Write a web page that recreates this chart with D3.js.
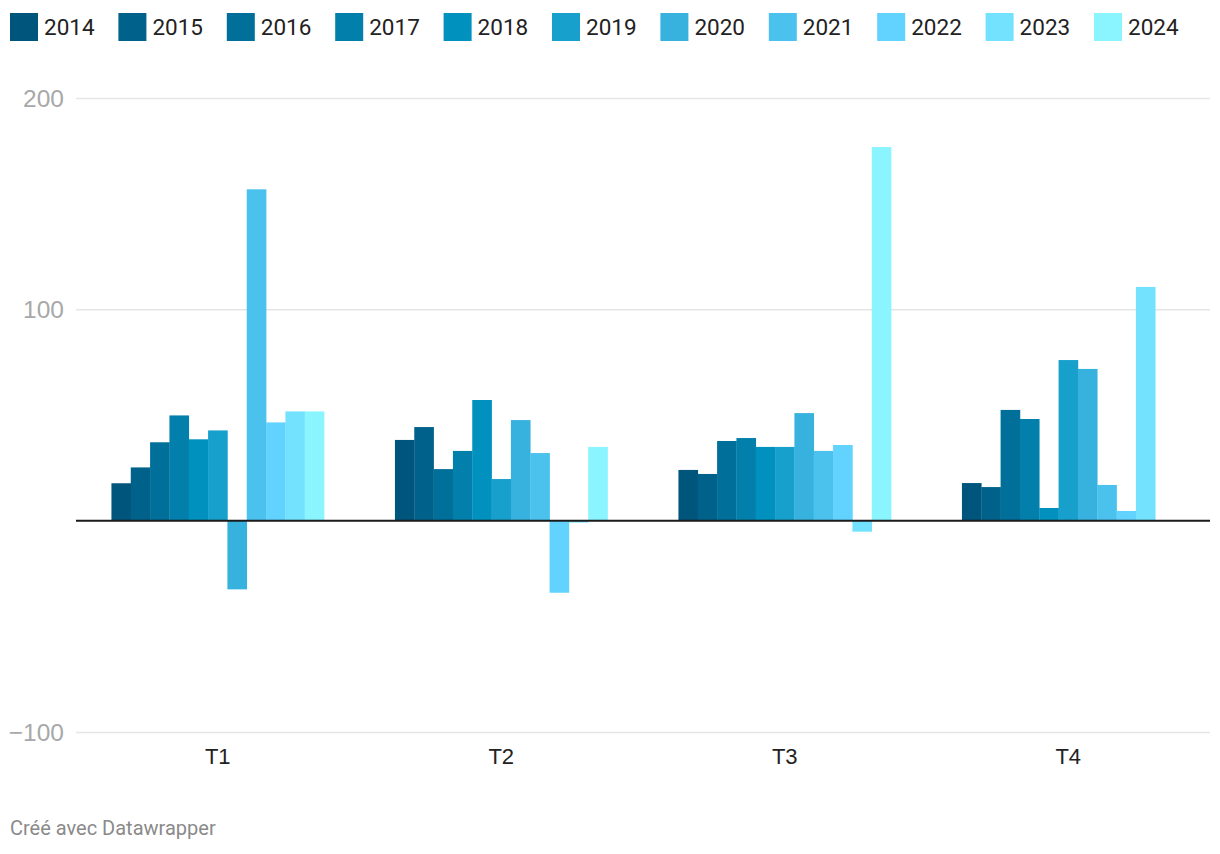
<!DOCTYPE html>
<html>
<head>
<meta charset="utf-8">
<script src="https://cdn.jsdelivr.net/npm/d3@7"></script>
<style>
  html, body { margin: 0; padding: 0; background: #fff; }
  svg { display: block; font-family: Roboto, "Noto Sans", sans-serif; }
</style>
</head>
<body>
<svg id="chart" width="1220" height="854"></svg>
<script>
const categories = ["T1", "T2", "T3", "T4"];
const years = ["2014", "2015", "2016", "2017", "2018", "2019", "2020", "2021", "2022", "2023", "2024"];
const colors = ["#00557d", "#00628a", "#006f99", "#0280ab", "#0091be", "#18a0cd", "#37b2de", "#4bc2ee", "#62d2ff", "#73e2ff", "#8af5ff"];
const v2014 = [17.7, 38.2, 24.0, 17.8];
const v2015 = [25.2, 44.3, 22.1, 15.9];
const v2016 = [37.1, 24.4, 37.7, 52.4];
const v2017 = [49.8, 33.0, 39.1, 48.1];
const v2018 = [38.5, 57.1, 34.9, 6.0];
const v2019 = [42.7, 19.7, 34.9, 76.0];
const v2020 = [-32.5, 47.6, 50.9, 71.8];
const v2021 = [156.8, 32.0, 33.0, 16.9];
const v2022 = [46.5, -34.1, 35.8, 4.6];
const v2023 = [51.7, -0.9, -5.2, 110.6];
const v2024 = [51.7, 34.9, 176.8, null];
const yTicks = [-100, 100, 200];
const footer = "Créé avec Datawrapper";

const seriesValues = [v2014, v2015, v2016, v2017, v2018, v2019, v2020, v2021, v2022, v2023, v2024];

const svg = d3.select("#chart");
const plot = { left: 76, right: 1210, top: 98, bottom: 732 };

const x = d3.scaleBand().domain(categories).range([plot.left, plot.right])
  .paddingInner(0.25).paddingOuter(0.125);
const xi = d3.scaleBand().domain(years).range([0, x.bandwidth()]).padding(0);
const y = d3.scaleLinear().domain([-100, 200]).range([plot.bottom, plot.top]);

// gridlines
const yAxis = d3.axisLeft(y).tickValues(yTicks).tickSize(-(plot.right - plot.left))
  .tickFormat(d => d < 0 ? "\u2212" + Math.abs(d) : d);
const gy = svg.append("g").attr("transform", `translate(${plot.left},0)`).call(yAxis);
gy.select(".domain").remove();
gy.selectAll(".tick line").attr("stroke", "#e5e5e5").attr("stroke-width", 1.5);
gy.selectAll(".tick text").attr("x", -12).attr("fill", "#a8a8a8")
  .style("font-size", "24.5px").attr("dy", "0.34em");

// bars
const data = [];
years.forEach((yr, i) => {
  categories.forEach((c, j) => {
    const v = seriesValues[i][j];
    if (v !== null && v !== undefined) data.push({ yr, c, v, color: colors[i] });
  });
});
svg.append("g").selectAll("rect").data(data).join("rect")
  .attr("x", d => x(d.c) + xi(d.yr))
  .attr("width", xi.bandwidth() + 0.3)
  .attr("y", d => y(Math.max(0, d.v)))
  .attr("height", d => Math.abs(y(d.v) - y(0)))
  .attr("fill", d => d.color);

// zero baseline
svg.append("line")
  .attr("x1", plot.left).attr("x2", plot.right)
  .attr("y1", y(0)).attr("y2", y(0))
  .attr("stroke", "#1a1a1a").attr("stroke-width", 2);

// x axis labels
const xAxis = d3.axisBottom(x).tickSize(0);
const gx = svg.append("g").attr("transform", `translate(0,${plot.bottom})`).call(xAxis);
gx.select(".domain").remove();
gx.selectAll(".tick text").attr("y", 24).attr("dy", "0.35em")
  .attr("fill", "#222").style("font-size", "22px");

// legend
const legend = svg.append("g");
const legX = d3.scaleLinear().domain([0, years.length]).range([10, 10 + 108.4 * years.length]);
const li = legend.selectAll("g").data(years).join("g")
  .attr("transform", (d, i) => `translate(${legX(i)},13)`);
li.append("rect").attr("width", 28).attr("height", 28).attr("fill", (d, i) => colors[i]);
li.append("text").attr("x", 34).attr("y", 14).attr("dy", "0.35em")
  .attr("fill", "#222").style("font-size", "22.5px").text(d => d);

// footer
svg.append("text").attr("x", 10).attr("y", 835)
  .attr("fill", "#8a8a8a").style("font-size", "20px").text(footer);
</script>
</body>
</html>
